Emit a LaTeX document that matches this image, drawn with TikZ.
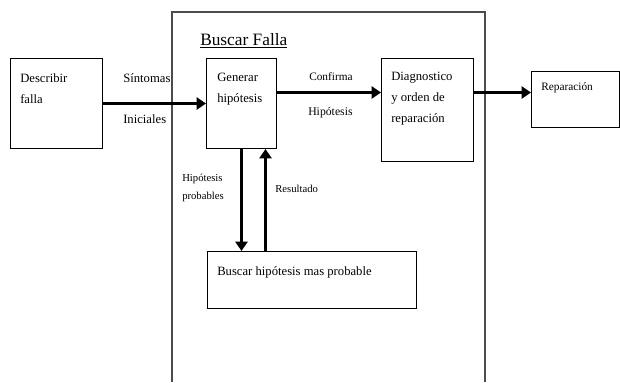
\documentclass[tikz,border=0pt]{standalone}
\usepackage{fontspec}
\setmainfont{Liberation Serif}
\usepackage{tikz}
\usetikzlibrary{arrows.meta}
\newlength\px
\setlength\px{0.75pt}
\tikzset{caja/.style = {draw, line width = 1\px, anchor = north west, inner sep = 0}}
\tikzset{texto/.style = {anchor = north west, align = left, inner sep = 0,
    font = \fontsize{9.5}{15.75}\selectfont}}
\tikzset{etiqueta/.style = {anchor = base west, align = left, inner sep = 0,
    font = \fontsize{9.5}{13.5}\selectfont}}
\tikzset{flecha/.style = {line width = 2.1pt, -{Triangle[length = 7pt, width = 9pt]}}}
\definecolor{gmarco}{rgb}{0.3, 0.3, 0.3}

\begin{document}
\begin{tikzpicture}[x = 1\px, y = -1\px]
    \useasboundingbox (0, 0) rectangle (620, 382);

    % marco de la busqueda
    \draw [gmarco, line width = 1.2\px] (172, 382) -- (172, 12) -- (485, 12) -- (485, 382);
    \node [anchor = base west, inner sep = 0, font = \fontsize{13}{15}\selectfont]
        (titulo) at (200, 45) {\underline{Buscar Falla}};

    % cajas
    \node [caja, minimum width = 92\px, minimum height = 90\px] (describir) at (10, 58) {};
    \node [caja, minimum width = 70\px, minimum height = 90\px] (generar) at (206, 58) {};
    \node [caja, minimum width = 92\px, minimum height = 103\px] (diagnostico) at (381, 58) {};
    \node [caja, minimum width = 88\px, minimum height = 56\px] (reparacion) at (531, 71) {};
    \node [caja, minimum width = 209\px, minimum height = 57\px] (busqueda) at (207, 251) {};

    \node [texto] (tdescribir) at (20, 73) {Describir\\falla};
    \node [texto] (tgenerar) at (217, 73) {Generar\\hipótesis};
    \node [texto] (tdiagnostico) at (391, 72) {Diagnostico\\y orden de\\reparación};
    \node [texto, font = \fontsize{8.5}{10}\selectfont] (treparacion) at (541, 82) {Reparación};
    \node [texto] (tbusqueda) at (217, 266) {Buscar hipótesis mas probable};

    % flechas
    \draw [flecha] (describir.east) -- (generar.west);
    \draw [flecha] ([yshift = 11\px]generar.east) -- ([yshift = 17.5\px]diagnostico.west);
    \draw [flecha] ([yshift = 17.5\px]diagnostico.east) -- ([yshift = 7\px]reparacion.west);
    \draw [flecha] (generar.south) -- (generar.south |- busqueda.north);
    \draw [flecha] ([xshift = 24\px]generar.south |- busqueda.north) -- ([xshift = 24\px]generar.south);

    % etiquetas
    \node [etiqueta] (sintomas) at (123, 82) {Síntomas};
    \node [etiqueta] (iniciales) at (123, 123) {Iniciales};
    \node [etiqueta, font = \fontsize{8.5}{10}\selectfont] (confirma) at (309, 80) {Confirma};
    \node [etiqueta, font = \fontsize{8.8}{10}\selectfont] (hipotesis) at (308, 115) {Hipótesis};
    \node [etiqueta, font = \fontsize{8}{10}\selectfont] (probables) at (182, 181) {Hipótesis};
    \node [etiqueta, font = \fontsize{8}{10}\selectfont] (probables2) at (182, 199) {probables};
    \node [etiqueta, font = \fontsize{8}{10}\selectfont] (resultado) at (275, 192) {Resultado};
\end{tikzpicture}
\end{document}
